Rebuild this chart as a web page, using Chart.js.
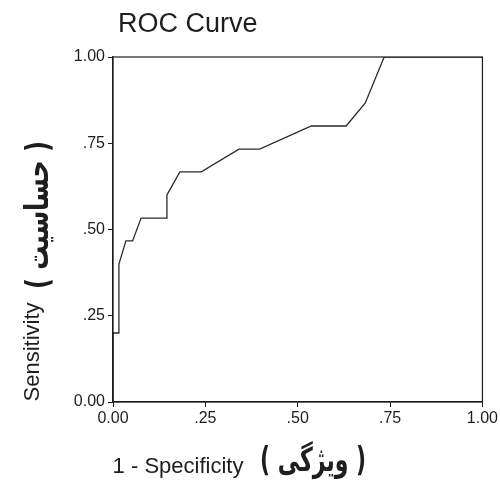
<!DOCTYPE html>
<html>
<head>
<meta charset="utf-8">
<title>ROC Curve</title>
<script src="https://cdn.jsdelivr.net/npm/chart.js@4.4.1/dist/chart.umd.min.js"></script>
<style>
    body { margin: 0; background: #fff; }
    #rocChart { display: block; }
</style>
</head>
<body>
<canvas id="rocChart" width="500" height="481"></canvas>
<script>
// puntos de la curva ROC (1 - especificidad, sensibilidad)
const falsePositive = [0, 0, 0.016, 0.016, 0.035, 0.053, 0.076, 0.146, 0.146, 0.181, 0.239, 0.341, 0.397, 0.537, 0.631, 0.683, 0.734, 1];
const sensitivity   = [0, 0.2, 0.2, 0.4, 0.467, 0.467, 0.533, 0.533, 0.6, 0.667, 0.667, 0.733, 0.733, 0.8, 0.8, 0.867, 1, 1];

const xTickLabels = ['0.00', '.25', '.50', '.75', '1.00'];
const yTickLabels = ['0.00', '.25', '.50', '.75', '1.00'];

const chartTitle = 'ROC Curve';
const yTitle = 'Sensitivity';
const yTitleFa = '( حساسیت )';
const xTitle = '1 - Specificity';
const xTitleFa = '( ویژگی )';

const ink = '#1e1e1e';
const latin = '"Liberation Sans", Arial, sans-serif';
const persian = '"DejaVu Sans", sans-serif';

// marco, titulo y textos de los ejes
const frameAndText = {
    id: 'frameAndText',
    afterDraw(chart) {
        const ctx = chart.ctx;
        const area = chart.chartArea;
        ctx.save();

        ctx.strokeStyle = ink;
        ctx.lineWidth = 1.2;
        ctx.strokeRect(area.left, area.top, area.right - area.left, area.bottom - area.top);

        ctx.fillStyle = ink;
        ctx.textAlign = 'left';
        ctx.textBaseline = 'alphabetic';
        ctx.font = '27px ' + latin;
        ctx.fillText(chartTitle, area.left + 5, 32);

        ctx.textAlign = 'center';
        ctx.textBaseline = 'middle';
        ctx.font = '22px ' + latin;
        ctx.fillText(xTitle, 178, 467);

        // texto persa escrito a mano en el original, algo mas alto
        ctx.save();
        ctx.translate(313, 462);
        ctx.scale(1, 1.5);
        ctx.font = 'bold 22px ' + persian;
        ctx.fillText(xTitleFa, 0, 0);
        ctx.restore();

        ctx.save();
        ctx.translate(33, 352);
        ctx.rotate(-Math.PI / 2);
        ctx.font = '22px ' + latin;
        ctx.fillText(yTitle, 0, 0);
        ctx.restore();

        ctx.save();
        ctx.translate(40, 215);
        ctx.rotate(-Math.PI / 2);
        ctx.scale(1, 1.35);
        ctx.font = 'bold 24px ' + persian;
        ctx.fillText(yTitleFa, 0, 0);
        ctx.restore();

        ctx.restore();
    }
};

const rocPoints = falsePositive.map((fp, i) => ({ x: fp, y: sensitivity[i] }));

new Chart(document.getElementById('rocChart'), {
    type: 'line',
    data: {
        datasets: [{
            data: rocPoints,
            borderColor: '#2a2a2a',
            borderWidth: 1.3,
            pointRadius: 0,
            tension: 0,
            fill: false
        }]
    },
    options: {
        responsive: false,
        animation: false,
        layout: { padding: { left: 0, right: 15, top: 57, bottom: 0 } },
        plugins: {
            legend: { display: false },
            title: { display: false },
            tooltip: { enabled: false }
        },
        scales: {
            x: {
                type: 'linear',
                min: 0,
                max: 1,
                afterFit: scale => { scale.height = 79; },
                border: { display: true, color: ink, width: 1.2 },
                grid: { drawOnChartArea: false, drawTicks: true, tickLength: 5, color: ink },
                ticks: {
                    stepSize: 0.25,
                    autoSkip: false,
                    maxRotation: 0,
                    padding: 2,
                    color: ink,
                    font: { family: latin, size: 16 },
                    callback: (v, i) => xTickLabels[i]
                }
            },
            y: {
                type: 'linear',
                min: 0,
                max: 1,
                afterFit: scale => { scale.width = 113; },
                border: { display: true, color: ink, width: 1.2 },
                grid: { drawOnChartArea: false, drawTicks: true, tickLength: 5, color: ink },
                ticks: {
                    stepSize: 0.25,
                    autoSkip: false,
                    padding: 3,
                    color: ink,
                    font: { family: latin, size: 16 },
                    callback: (v, i) => yTickLabels[i]
                }
            }
        }
    },
    plugins: [frameAndText]
});
</script>
</body>
</html>
